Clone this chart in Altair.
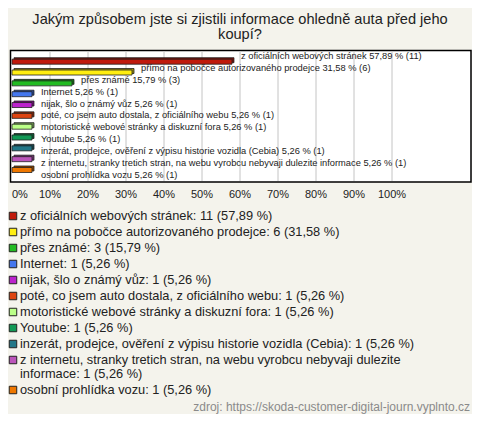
import altair as alt
import pandas as pd

# ---------------- data ----------------
title_lines = ["Jakým způsobem jste si zjistili informace ohledně auta před jeho", "koupí?"]
categories = [
    "z oficiálních webových stránek",
    "přímo na pobočce autorizovaného prodejce",
    "přes známé",
    "Internet",
    "nijak, šlo o známý vůz",
    "poté, co jsem auto dostala, z oficiálního webu",
    "motoristické webové stránky a diskuzní fora",
    "Youtube",
    "inzerát, prodejce, ověření z výpisu historie vozidla (Cebia)",
    "z internetu, stranky tretich stran, na webu vyrobcu nebyvaji dulezite informace",
    "osobní prohlídka vozu",
]
counts = [11, 6, 3, 1, 1, 1, 1, 1, 1, 1, 1]
percents = [57.89, 31.58, 15.79, 5.26, 5.26, 5.26, 5.26, 5.26, 5.26, 5.26, 5.26]
colors = ["#C01A0C", "#FFEE11", "#22BB22", "#4477EE", "#BB22CC", "#DD4411",
          "#BBFF88", "#119955", "#227788", "#BB55BB", "#EE7700"]
tick_values = [0, 10, 20, 30, 40, 50, 60, 70, 80, 90, 100]
source_text = "zdroj: https://skoda-customer-digital-journ.vyplnto.cz"

# ---------------- layout helpers ----------------
OX, OY = 8, 8          # page margin offset
W, H = 464, 406
BG = "#F4F3EC"
FONT = "Liberation Sans"


def darker(hexc, f=0.6):
    hexc = hexc.lstrip("#")
    r, g, b = (int(hexc[i:i + 2], 16) for i in (0, 2, 4))
    return "#%02x%02x%02x" % (int(r * f), int(g * f), int(b * f))


def pct_str(p):
    return f"{p:.2f}".replace(".", ",")


bars = pd.DataFrame({
    "row": list(range(len(categories))),
    "cat": categories,
    "pct": percents,
    "color": colors,
    "dark": [darker(c) for c in colors],
    "barlabel": [f"{c} {pct_str(p)} % ({n})" for c, p, n in zip(categories, percents, counts)],
})

# legend lines (manual wrapping of long entries)
leg_rows = []
pos = 0.0
for c, n, p, col in zip(categories, counts, percents, colors):
    full = f"{c}: {n} ({pct_str(p)} %)"
    words = full.split(" ")
    lines, cur = [], ""
    for w in words:
        cand = (cur + " " + w).strip()
        if len(cand) > 75 and cur:
            lines.append(cur)
            cur = w
        else:
            cur = cand
    lines.append(cur)
    for k, ln in enumerate(lines):
        leg_rows.append({"ly": pos + 0.875 * k, "txt": ln, "color": col, "first": k == 0})
    pos += 1 + 0.875 * (len(lines) - 1)
legend = pd.DataFrame(leg_rows)

ticks = pd.DataFrame({"v": tick_values, "t": [f"{v}%" for v in tick_values]})
one = pd.DataFrame({"a": [0]})

xscale = alt.Scale(domain=[0, 100], range=[12 - OX, 392 - OX])
yscale = alt.Scale(domain=[0, 10], range=[56.7 - OY, 175 - OY])
lyscale = alt.Scale(domain=[0, legend["ly"].max()], range=[216 - OY, 390 - OY])

# ---------------- layers ----------------
title = alt.Chart(pd.DataFrame({"t": title_lines, "i": [0, 1]})).mark_text(
    fontSize=14.6, font=FONT, color="#222222", align="center", baseline="middle"
).encode(
    x=alt.value(240 - OX),
    y=alt.Y("i:Q", scale=alt.Scale(domain=[0, 1], range=[20 - OY, 35 - OY]), axis=None),
    text="t:N",
)

box = alt.Chart(one).mark_rect(fill="white", stroke="#000000", strokeWidth=1.5).encode(
    x=alt.value(10.5 - OX), x2=alt.value(471 - OX), y=alt.value(50.5 - OY), y2=alt.value(182 - OY)
)

grid = alt.Chart(ticks[ticks["v"] > 0]).mark_rule(color="#C4C4C4", strokeWidth=1).encode(
    x=alt.X("v:Q", scale=xscale, axis=None),
    y=alt.value(51 - OY), y2=alt.value(181 - OY),
)

tick_labels = alt.Chart(ticks[ticks["v"] > 0]).mark_text(
    fontSize=11, font=FONT, color="#222222", align="center", baseline="middle"
).encode(
    x=alt.X("v:Q", scale=xscale, axis=None),
    y=alt.value(195 - OY),
    text="t:N",
)

tick_zero = alt.Chart(ticks[ticks["v"] == 0]).mark_text(
    fontSize=11, font=FONT, color="#222222", align="left", baseline="middle"
).encode(
    x=alt.X("v:Q", scale=xscale, axis=None),
    y=alt.value(195 - OY),
    text="t:N",
)

bar_back = alt.Chart(bars).mark_bar(
    orient="horizontal", height=5, xOffset=2, yOffset=-1.5, stroke="#222222", strokeWidth=0.8
).encode(
    x=alt.X("pct:Q", scale=xscale, axis=None),
    y=alt.Y("row:Q", scale=yscale, axis=None),
    color=alt.Color("dark:N", scale=None),
)

bar_front = alt.Chart(bars).mark_bar(
    orient="horizontal", height=5, stroke="#222222", strokeWidth=0.8
).encode(
    x=alt.X("pct:Q", scale=xscale, axis=None),
    y=alt.Y("row:Q", scale=yscale, axis=None),
    color=alt.Color("color:N", scale=None),
)

bar_labels = alt.Chart(bars).mark_text(
    fontSize=9.3, font=FONT, color="#222222", align="left", baseline="middle", dx=9, dy=-0.5
).encode(
    x=alt.X("pct:Q", scale=xscale, axis=None),
    y=alt.Y("row:Q", scale=yscale, axis=None),
    text="barlabel:N",
)

leg_squares = alt.Chart(legend[legend["first"]]).mark_square(
    size=56, opacity=1, stroke="#222222", strokeWidth=1
).encode(
    x=alt.value(13 - OX),
    y=alt.Y("ly:Q", scale=lyscale, axis=None),
    color=alt.Color("color:N", scale=None),
)

leg_text = alt.Chart(legend).mark_text(
    fontSize=12.8, font=FONT, color="#222222", align="left", baseline="middle"
).encode(
    x=alt.value(20 - OX),
    y=alt.Y("ly:Q", scale=lyscale, axis=None),
    text="txt:N",
)

source = alt.Chart(pd.DataFrame({"s": [source_text]})).mark_text(
    fontSize=12, font=FONT, color="#8A8A8A", align="right", baseline="middle"
).encode(
    x=alt.value(470 - OX), y=alt.value(407 - OY), text="s:N"
)

chart = alt.layer(
    box, grid, tick_labels, tick_zero, bar_back, bar_front, bar_labels,
    title, leg_squares, leg_text, source
).resolve_scale(
    x="independent", y="independent", color="independent"
).properties(
    width=W, height=H, padding=0, autosize=alt.AutoSizeParams(type="none"),
    background=BG,
).configure_view(stroke=None)

chart.save("out.html", embed_options={"renderer": "svg", "actions": False})
